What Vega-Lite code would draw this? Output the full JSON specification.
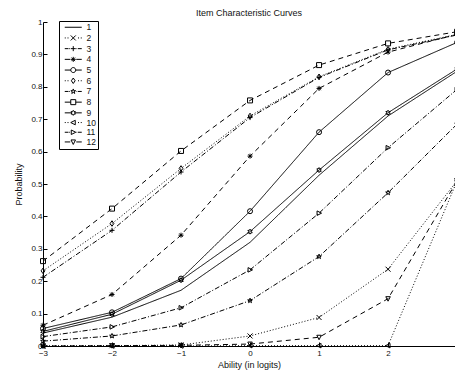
{
  "$schema": "https://vega.github.io/schema/vega-lite/v6.json",
  "width": 412,
  "height": 324,
  "autosize": {"type": "none"},
  "padding": {"left": 43, "top": 22, "right": 0, "bottom": 27},
  "background": "white",
  "config": {
    "font": "Liberation Sans",
    "view": {"stroke": null},
    "axis": {
      "grid": false,
      "domainColor": "black",
      "domainWidth": 1,
      "tickColor": "black",
      "tickSize": -4,
      "labelPadding": 7,
      "labelFontSize": 8,
      "labelColor": "#111",
      "titleFontSize": 9,
      "titleFontWeight": "normal",
      "titleColor": "#111"
    },
    "legend": {
      "labelFontSize": 8.5,
      "labelColor": "#111"
    }
  },
  "title": {
    "text": "Item Characteristic Curves",
    "fontSize": 9,
    "fontWeight": "normal",
    "color": "#111",
    "offset": 1,
    "dy": 1
  },
  "data": {
    "values": [
      {"item": 1, "x": -3, "p": 0.040}, {"item": 1, "x": -2, "p": 0.089}, {"item": 1, "x": -1, "p": 0.172}, {"item": 1, "x": 0, "p": 0.320}, {"item": 1, "x": 1, "p": 0.527}, {"item": 1, "x": 2, "p": 0.710}, {"item": 1, "x": 3, "p": 0.848},
      {"item": 2, "x": -3, "p": 0.000}, {"item": 2, "x": -2, "p": 0.001}, {"item": 2, "x": -1, "p": 0.003}, {"item": 2, "x": 0, "p": 0.031}, {"item": 2, "x": 1, "p": 0.088}, {"item": 2, "x": 2, "p": 0.237}, {"item": 2, "x": 3, "p": 0.510},
      {"item": 3, "x": -3, "p": 0.212}, {"item": 3, "x": -2, "p": 0.357}, {"item": 3, "x": -1, "p": 0.537}, {"item": 3, "x": 0, "p": 0.705}, {"item": 3, "x": 1, "p": 0.829}, {"item": 3, "x": 2, "p": 0.914}, {"item": 3, "x": 3, "p": 0.960},
      {"item": 4, "x": -3, "p": 0.064}, {"item": 4, "x": -2, "p": 0.159}, {"item": 4, "x": -1, "p": 0.342}, {"item": 4, "x": 0, "p": 0.586}, {"item": 4, "x": 1, "p": 0.795}, {"item": 4, "x": 2, "p": 0.907}, {"item": 4, "x": 3, "p": 0.962},
      {"item": 5, "x": -3, "p": 0.054}, {"item": 5, "x": -2, "p": 0.104}, {"item": 5, "x": -1, "p": 0.208}, {"item": 5, "x": 0, "p": 0.416}, {"item": 5, "x": 1, "p": 0.660}, {"item": 5, "x": 2, "p": 0.844}, {"item": 5, "x": 3, "p": 0.937},
      {"item": 6, "x": -3, "p": 0.232}, {"item": 6, "x": -2, "p": 0.378}, {"item": 6, "x": -1, "p": 0.548}, {"item": 6, "x": 0, "p": 0.710}, {"item": 6, "x": 1, "p": 0.831}, {"item": 6, "x": 2, "p": 0.916}, {"item": 6, "x": 3, "p": 0.962},
      {"item": 7, "x": -3, "p": 0.015}, {"item": 7, "x": -2, "p": 0.031}, {"item": 7, "x": -1, "p": 0.065}, {"item": 7, "x": 0, "p": 0.140}, {"item": 7, "x": 1, "p": 0.276}, {"item": 7, "x": 2, "p": 0.473}, {"item": 7, "x": 3, "p": 0.685},
      {"item": 8, "x": -3, "p": 0.262}, {"item": 8, "x": -2, "p": 0.424}, {"item": 8, "x": -1, "p": 0.602}, {"item": 8, "x": 0, "p": 0.758}, {"item": 8, "x": 1, "p": 0.867}, {"item": 8, "x": 2, "p": 0.934}, {"item": 8, "x": 3, "p": 0.970},
      {"item": 9, "x": -3, "p": 0.045}, {"item": 9, "x": -2, "p": 0.098}, {"item": 9, "x": -1, "p": 0.203}, {"item": 9, "x": 0, "p": 0.353}, {"item": 9, "x": 1, "p": 0.543}, {"item": 9, "x": 2, "p": 0.720}, {"item": 9, "x": 3, "p": 0.855},
      {"item": 10, "x": -3, "p": 0.000}, {"item": 10, "x": -2, "p": 0.000}, {"item": 10, "x": -1, "p": 0.000}, {"item": 10, "x": 0, "p": 0.001}, {"item": 10, "x": 1, "p": 0.001}, {"item": 10, "x": 2, "p": 0.001}, {"item": 10, "x": 3, "p": 0.510},
      {"item": 11, "x": -3, "p": 0.029}, {"item": 11, "x": -2, "p": 0.059}, {"item": 11, "x": -1, "p": 0.118}, {"item": 11, "x": 0, "p": 0.235}, {"item": 11, "x": 1, "p": 0.410}, {"item": 11, "x": 2, "p": 0.612}, {"item": 11, "x": 3, "p": 0.792},
      {"item": 12, "x": -3, "p": 0.000}, {"item": 12, "x": -2, "p": 0.001}, {"item": 12, "x": -1, "p": 0.002}, {"item": 12, "x": 0, "p": 0.006}, {"item": 12, "x": 1, "p": 0.027}, {"item": 12, "x": 2, "p": 0.146}, {"item": 12, "x": 3, "p": 0.510}
    ]
  },
  "encoding": {
    "x": {
      "field": "x",
      "type": "quantitative",
      "scale": {"domain": [-3, 2.97], "nice": false, "zero": false},
      "axis": {"values": [-3, -2, -1, 0, 1, 2, 3], "title": "Ability (in logits)", "titlePadding": 3, "labelFlush": false}
    },
    "y": {
      "field": "p",
      "type": "quantitative",
      "scale": {"domain": [0, 1], "nice": false},
      "axis": {"values": [0, 0.1, 0.2, 0.3, 0.4, 0.5, 0.6, 0.7, 0.8, 0.9, 1], "format": "~g", "title": "Probability", "titlePadding": 7, "labelPadding": 5}
    }
  },
  "layer": [
    {
      "mark": {"type": "line", "stroke": "black", "strokeWidth": 1, "clip": false},
      "encoding": {
        "detail": {"field": "item", "type": "nominal"},
        "strokeDash": {
          "field": "item",
          "type": "nominal",
          "scale": {
            "domain": [1, 2, 3, 4, 5, 6, 7, 8, 9, 10, 11, 12],
            "range": [[1, 0], [1, 2], [5, 2, 1, 2], [5, 4], [1, 0], [1, 2], [5, 2, 1, 2], [5, 4], [1, 0], [1, 2], [5, 2, 1, 2], [5, 4]]
          },
          "legend": null
        }
      }
    },
    {
      "mark": {"type": "point", "filled": false, "stroke": "black", "strokeWidth": 1, "opacity": 1, "size": 25, "clip": false},
      "encoding": {
        "shape": {
          "field": "item",
          "type": "nominal",
          "scale": {
            "domain": [1, 2, 3, 4, 5, 6, 7, 8, 9, 10, 11, 12],
            "range": [
              "M0,0",
              "M-1,-1L1,1M-1,1L1,-1",
              "M-1,0H1M0,-1V1",
              "M-1,0H1M0,-1V1M-0.7,-0.7L0.7,0.7M-0.7,0.7L0.7,-0.7",
              "circle",
              "M0,-1.1L0.75,0L0,1.1L-0.75,0Z",
              "M0,-1L0.225,-0.309L0.951,-0.309L0.363,0.118L0.588,0.809L0,0.382L-0.588,0.809L-0.363,0.118L-0.951,-0.309L-0.225,-0.309Z",
              "M-1,-1H1V1H-1Z",
              "M0,-1L0.289,-0.5L0.866,-0.5L0.577,0L0.866,0.5L0.289,0.5L0,1L-0.289,0.5L-0.866,0.5L-0.577,0L-0.866,-0.5L-0.289,-0.5Z",
              "M-1,0L0.8,-0.9L0.8,0.9Z",
              "M1,0L-0.8,-0.9L-0.8,0.9Z",
              "M0,1L-0.9,-0.8L0.9,-0.8Z"
            ]
          },
          "legend": null
        }
      }
    },
    {
      "mark": {"type": "point", "filled": false, "stroke": "black", "strokeWidth": 1, "opacity": 0, "size": 25},
      "encoding": {
        "shape": {
          "field": "item",
          "type": "nominal",
          "scale": {
            "domain": [1, 2, 3, 4, 5, 6, 7, 8, 9, 10, 11, 12],
            "range": [
              "M-3.4,0H3.4",
              "M-3.4,0h0.4M-2.3,0h0.4M1.9,0h0.4M3,0h0.4M-1,-1L1,1M-1,1L1,-1",
              "M-3.4,0h1.5M-1.6,0h0.3M1.3,0h0.3M1.9,0h1.5M-1,0H1M0,-1V1",
              "M-3.4,0h2.2M1.2,0h2.2M-1,0H1M0,-1V1M-0.7,-0.7L0.7,0.7M-0.7,0.7L0.7,-0.7",
              "M-3.4,0H-1M1,0H3.4M-1,0A1,1,0,1,1,1,0A1,1,0,1,1,-1,0Z",
              "M-3.4,0h0.4M-2.3,0h0.4M1.9,0h0.4M3,0h0.4M0,-1.1L0.75,0L0,1.1L-0.75,0Z",
              "M-3.4,0h1.5M-1.6,0h0.3M1.3,0h0.3M1.9,0h1.5M0,-1L0.225,-0.309L0.951,-0.309L0.363,0.118L0.588,0.809L0,0.382L-0.588,0.809L-0.363,0.118L-0.951,-0.309L-0.225,-0.309Z",
              "M-3.4,0h2.4M1,0h2.4M-1,-1H1V1H-1Z",
              "M-3.4,0H-0.6M0.6,0H3.4M0,-1L0.289,-0.5L0.866,-0.5L0.577,0L0.866,0.5L0.289,0.5L0,1L-0.289,0.5L-0.866,0.5L-0.577,0L-0.866,-0.5L-0.289,-0.5Z",
              "M-3.4,0h0.4M-2.3,0h0.4M1.9,0h0.4M3,0h0.4M-1,0L0.8,-0.9L0.8,0.9Z",
              "M-3.4,0h1.5M-1.6,0h0.3M1.3,0h0.3M1.9,0h1.5M1,0L-0.8,-0.9L-0.8,0.9Z",
              "M-3.4,0h2.2M1.2,0h2.2M0,1L-0.9,-0.8L0.9,-0.8Z"
            ]
          },
          "legend": {
            "title": null,
            "orient": "none",
            "legendX": 16,
            "legendY": -1,
            "strokeColor": "black",
            "fillColor": "white",
            "padding": 2,
            "symbolOffset": 8,
            "symbolSize": 25,
            "symbolOpacity": 1,
            "symbolStrokeColor": "black",
            "symbolStrokeWidth": 1,
            "symbolFillColor": "transparent",
            "labelOffset": 9,
            "rowPadding": 0.7,
            "labelFont": "Liberation Sans"
          }
        }
      }
    }
  ],
  "resolve": {"scale": {"shape": "independent"}, "legend": {"shape": "independent"}}
}
